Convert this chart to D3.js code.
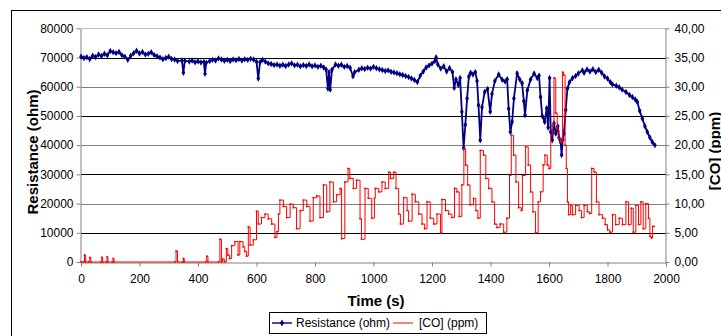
<!DOCTYPE html>
<html>
<head>
<meta charset="utf-8">
<script src="https://cdn.jsdelivr.net/npm/d3@7"></script>
<style>
  body { margin: 0; background: #fff; }
  svg { display: block; font-family: Arial, "Liberation Sans", sans-serif; }
</style>
</head>
<body>
<div id="chart"></div>
<script>
// tick values
const xTicks = [0, 200, 400, 600, 800, 1000, 1200, 1400, 1600, 1800, 2000];
const resTicks = [0, 10000, 20000, 30000, 40000, 50000, 60000, 70000, 80000];
const coTicks = [0, 5, 10, 15, 20, 25, 30, 35, 40];

// Resistance (ohm)
const resTime = [0, 10, 20, 30, 40, 50, 60, 70, 80, 90, 100, 110, 120, 130, 140, 150, 160, 170, 180, 190,
  200, 210, 220, 230, 240, 250, 260, 270, 280, 290, 300, 310, 320, 330, 345, 350, 355, 370, 380, 390,
  400, 410, 420, 424, 428, 440, 450, 460, 470, 480, 490, 500, 510, 520, 530, 540, 550, 560, 570, 580,
  590, 600, 606, 612, 620, 630, 640, 650, 660, 670, 680, 690, 700, 710, 720, 730, 740, 750, 760, 770,
  780, 790, 800, 810, 820, 830, 838, 844, 848, 852, 858, 870, 880, 890, 900, 910, 920, 930, 936, 950,
  960, 970, 980, 990, 1000, 1010, 1020, 1030, 1040, 1050, 1060, 1070, 1080, 1090, 1100, 1110, 1120, 1130, 1140, 1150,
  1160, 1170, 1180, 1190, 1200, 1210, 1214, 1220, 1230, 1240, 1250, 1260, 1270, 1276, 1282, 1290, 1296, 1302, 1308, 1314,
  1320, 1326, 1332, 1340, 1348, 1354, 1359, 1365, 1371, 1380, 1390, 1399, 1405, 1415, 1428, 1440, 1450, 1457, 1462, 1468,
  1474, 1480, 1491, 1500, 1508, 1514, 1518, 1526, 1537, 1549, 1560, 1566, 1571, 1577, 1585, 1592, 1597, 1602, 1606, 1611,
  1617, 1623, 1630, 1634, 1640, 1643, 1647, 1651, 1657, 1663, 1670, 1680, 1691, 1700, 1714, 1720, 1730, 1740, 1750, 1760,
  1770, 1780, 1790, 1800, 1810, 1817, 1830, 1840, 1850, 1863, 1875, 1885, 1895, 1902, 1910, 1919, 1928, 1936, 1945, 1953, 1962];
const resOhm = [70300, 69800, 70100, 69500, 70600, 70200, 71000, 70500, 71300, 70800, 72200, 71800, 71500, 71900, 70800, 70300, 69200, 70600, 71500, 72300,
  71400, 71900, 71000, 71300, 71800, 70900, 70400, 70000, 69400, 69800, 70300, 69500, 69300, 68800, 69000, 64800, 68900, 68600, 69000, 68400,
  68700, 68300, 68500, 64400, 68200, 68800, 69200, 69000, 69700, 69300, 68900, 69200, 68800, 69300, 69100, 69500, 69000, 69400, 69200, 69600,
  69300, 68600, 62800, 68400, 69200, 68600, 68000, 67800, 67400, 67600, 67200, 67500, 67100, 67600, 68000, 67300, 67500, 67000, 67400, 67100,
  67600, 67000, 67300, 66800, 67200, 66600, 65900, 59400, 65000, 59000, 65800, 67600, 67200, 67500, 66800, 67100, 66500, 63600, 65000, 65800,
  66300, 66100, 66500, 66200, 66800, 66300, 66000, 65700, 65400, 65600, 65100, 64900, 64600, 64300, 64000, 63700, 63300, 62800, 62300, 61600,
  63800, 65200, 66600, 67300, 67900, 68800, 70000, 67600, 66200, 67000, 65200, 66400, 65000, 59600, 62500, 60600, 63000, 51400, 39000, 47000,
  56000, 63500, 64800, 64200, 65000, 62000, 53700, 41700, 53000, 58200, 59200, 51400, 57500, 62000, 64200, 62400, 61800, 62600, 52500, 44500,
  48000, 56000, 64500, 62500, 61200, 55000, 50300, 58800, 62500, 64500, 63000, 63800, 56500, 50000, 48000, 52600, 46000, 63000, 44500, 41700,
  47500, 44000, 46500, 42500, 41000, 36600, 42000, 44000, 52000, 59400, 61500, 62900, 63700, 64500, 65600, 64800, 65900, 65200, 66000, 65000,
  65800, 64800, 63500, 62800, 61500, 60800, 60300, 59800, 59000, 58200, 57200, 56500, 55600, 54800, 51800, 49100, 46500, 44500, 42600, 41100, 40000];

// [CO] (ppm)
const coTime = [0, 8, 12, 16, 26, 30, 34, 68, 71, 74, 86, 89, 92, 107, 110, 113, 320, 325, 330, 347,
  350, 353, 426, 430, 434, 470, 475, 480, 484, 490, 497, 502, 508, 515, 526, 537, 543, 554, 560, 566,
  572, 578, 589, 600, 606, 617, 629, 640, 652, 663, 670, 675, 680, 692, 703, 715, 726, 737, 749, 760,
  772, 783, 794, 806, 817, 829, 840, 851, 863, 874, 886, 891, 902, 913, 919, 931, 942, 954, 959, 971,
  982, 994, 1003, 1006, 1018, 1029, 1040, 1052, 1058, 1069, 1077, 1086, 1092, 1103, 1115, 1120, 1132, 1143, 1155, 1166,
  1175, 1183, 1194, 1206, 1217, 1229, 1234, 1246, 1257, 1268, 1277, 1285, 1293, 1302, 1309, 1315, 1322, 1330, 1342, 1350,
  1357, 1365, 1376, 1384, 1394, 1405, 1414, 1422, 1433, 1445, 1456, 1465, 1471, 1479, 1487, 1496, 1505, 1509, 1520, 1529,
  1537, 1545, 1554, 1563, 1571, 1580, 1586, 1594, 1600, 1606, 1611, 1617, 1623, 1628, 1634, 1640, 1646, 1650, 1655, 1659,
  1663, 1667, 1674, 1680, 1691, 1703, 1711, 1720, 1731, 1739, 1746, 1754, 1762, 1771, 1783, 1792, 1800, 1808, 1817, 1828,
  1840, 1851, 1863, 1872, 1881, 1888, 1897, 1906, 1914, 1922, 1931, 1940, 1945, 1950, 1954, 1960];
const coPpm = [0, 0, 1.2, 0, 0, 0.8, 0, 0, 0.8, 0, 0, 0.9, 0, 0, 0.6, 0, 0, 1.9, 0, 0,
  0.6, 0, 0, 1.0, 0, 0, 3.9, 0, 0.5, 0, 2.3, 1.2, 0.6, 2.8, 3.5, 1.2, 3.5, 2.6, 1.8, 1.0,
  6.0, 2.9, 3.8, 8.7, 6.5, 7.6, 8.2, 7.4, 6.5, 4.2, 5.2, 8.2, 10.6, 9.5, 7.6, 9.9, 9.3, 5.7, 8.8, 10.6,
  9.5, 7.0, 11.0, 11.3, 7.6, 13.2, 8.6, 13.7, 10.3, 11.5, 12.6, 4.0, 13.7, 16.0, 14.3, 12.6, 14.0, 7.4, 3.9, 12.6,
  10.9, 7.5, 10.9, 12.6, 12.0, 13.7, 12.6, 15.4, 14.3, 15.4, 12.6, 8.2, 6.5, 11.0, 8.8, 7.0, 11.6, 10.3, 8.2, 6.5,
  5.7, 10.3, 7.5, 6.5, 8.2, 5.0, 10.7, 8.8, 8.2, 7.6, 12.6, 12.0, 7.8, 13.2, 19.4, 16.6, 13.2, 9.8, 10.9, 8.8,
  7.5, 19.1, 18.3, 14.3, 12.6, 10.3, 6.5, 5.9, 6.5, 5.1, 7.5, 14.8, 21.7, 18.3, 13.7, 9.3, 8.8, 14.8, 19.7, 16.6,
  12.0, 8.6, 5.0, 10.3, 12.0, 16.6, 18.3, 16.6, 16.0, 21.7, 23.4, 31.5, 25.5, 22.7, 21.1, 20.5, 32.5, 32.0, 20.0, 16.0,
  10.3, 8.1, 9.7, 8.1, 9.7, 8.8, 7.6, 9.7, 8.6, 8.3, 16.0, 15.4, 10.3, 8.1, 7.5, 6.4, 5.5, 5.1, 8.1, 6.4,
  7.5, 6.4, 10.3, 6.4, 9.2, 5.1, 9.7, 6.4, 10.3, 5.7, 10.0, 7.5, 4.4, 4.1, 6.1, 6.1];

const W = 721, H = 336;
const plot = { left: 81, right: 666, top: 28.3, bottom: 262 };
const navy = "#000080", red = "#ff0000";
const coFmt = d3.formatLocale({ decimal: ",", thousands: ".", grouping: [3], currency: ["", ""] }).format(".2f");

const svg = d3.select("#chart").append("svg").attr("width", W).attr("height", H);

// chart area border (runs off right and bottom)
svg.append("rect").attr("x", 11.5).attr("y", 10.5).attr("width", 720).attr("height", 340)
  .attr("fill", "#fff").attr("stroke", "#000").attr("stroke-width", 1);

const x = d3.scaleLinear().domain([0, 2000]).range([plot.left, plot.right]);
const yL = d3.scaleLinear().domain([0, 80000]).range([plot.bottom, plot.top]);
const yR = d3.scaleLinear().domain([0, 40]).range([plot.bottom, plot.top]);

// gridlines, alternating black / gray like the source
svg.append("g").selectAll("line").data(resTicks.filter(d => d > 0)).join("line")
  .attr("x1", plot.left).attr("x2", plot.right)
  .attr("y1", d => Math.round(yL(d)) + 0.5).attr("y2", d => Math.round(yL(d)) + 0.5)
  .attr("stroke", d => d === 80000 ? "#c0c0c0" : (d / 10000) % 2 ? "#000" : "#808080")
  .attr("stroke-width", 1);

const axisStyle = g => {
  g.select(".domain").attr("stroke", "#808080");
  g.selectAll(".tick line").attr("stroke", "#808080");
  g.selectAll("text").attr("fill", "#000").style("font-size", "12px")
    .style("font-family", "Arial, 'Liberation Sans', sans-serif");
};

svg.append("g").attr("transform", `translate(${plot.left - 0.5},0)`)
  .call(d3.axisLeft(yL).tickValues(resTicks).tickSize(4).tickSizeOuter(0).tickPadding(3).tickFormat(d3.format("d")))
  .call(axisStyle);

svg.append("g").attr("transform", `translate(${plot.right - 0.5},0)`)
  .call(d3.axisRight(yR).tickValues(coTicks).tickSize(4).tickSizeOuter(0).tickPadding(5).tickFormat(coFmt))
  .call(axisStyle);

svg.append("g").attr("transform", `translate(0,${plot.bottom + 0.5})`)
  .call(d3.axisBottom(x).tickValues(xTicks).tickSize(4).tickSizeOuter(0).tickPadding(8).tickFormat(d3.format("d")))
  .call(axisStyle);

// Resistance series
const resData = resTime.map((t, i) => [t, resOhm[i]]);
svg.append("path").datum(resData)
  .attr("fill", "none").attr("stroke", navy).attr("stroke-width", 1.8)
  .attr("d", d3.line().x(d => x(d[0])).y(d => yL(d[1])));
svg.append("g").selectAll("path").data(resData).join("path")
  .attr("transform", d => `translate(${x(d[0])},${yL(d[1])})`)
  .attr("d", d3.symbol(d3.symbolDiamond, 12))
  .attr("fill", navy);

// CO series (secondary axis), drawn as steps like the sampled logger data
const coData = coTime.map((t, i) => [t, coPpm[i]]);
svg.append("path").datum(coData)
  .attr("fill", "none").attr("stroke", red).attr("stroke-width", 1)
  .attr("d", d3.line().curve(d3.curveStepAfter).x(d => x(d[0])).y(d => yR(d[1])));
svg.append("g").selectAll("circle").data(coData).join("circle")
  .attr("cx", d => x(d[0])).attr("cy", d => yR(d[1])).attr("r", 0.9)
  .attr("fill", red);

// axis titles
svg.append("text").attr("transform", "translate(38,152) rotate(-90)")
  .attr("text-anchor", "middle").style("font-size", "15px").style("font-weight", "bold")
  .text("Resistance (ohm)");
svg.append("text").attr("transform", "translate(720,151) rotate(-90)")
  .attr("text-anchor", "middle").style("font-size", "15px").style("font-weight", "bold")
  .text("[CO] (ppm)");
svg.append("text").attr("x", 376).attr("y", 306)
  .attr("text-anchor", "middle").style("font-size", "15px").style("font-weight", "bold")
  .text("Time (s)");

// legend
const legend = svg.append("g");
legend.append("rect").attr("x", 269.5).attr("y", 312.5).attr("width", 217).attr("height", 21)
  .attr("fill", "#fff").attr("stroke", "#000");
legend.append("line").attr("x1", 272).attr("x2", 292).attr("y1", 323).attr("y2", 323)
  .attr("stroke", navy).attr("stroke-width", 1.4);
legend.append("path").attr("transform", "translate(282,323)")
  .attr("d", d3.symbol(d3.symbolDiamond, 14)).attr("fill", navy);
legend.append("text").attr("x", 296).attr("y", 327).style("font-size", "12px").text("Resistance (ohm)");
legend.append("line").attr("x1", 393).attr("x2", 413).attr("y1", 323).attr("y2", 323)
  .attr("stroke", red).attr("stroke-width", 1);
legend.append("text").attr("x", 419).attr("y", 327).style("font-size", "12px").text("[CO] (ppm)");
</script>
</body>
</html>
